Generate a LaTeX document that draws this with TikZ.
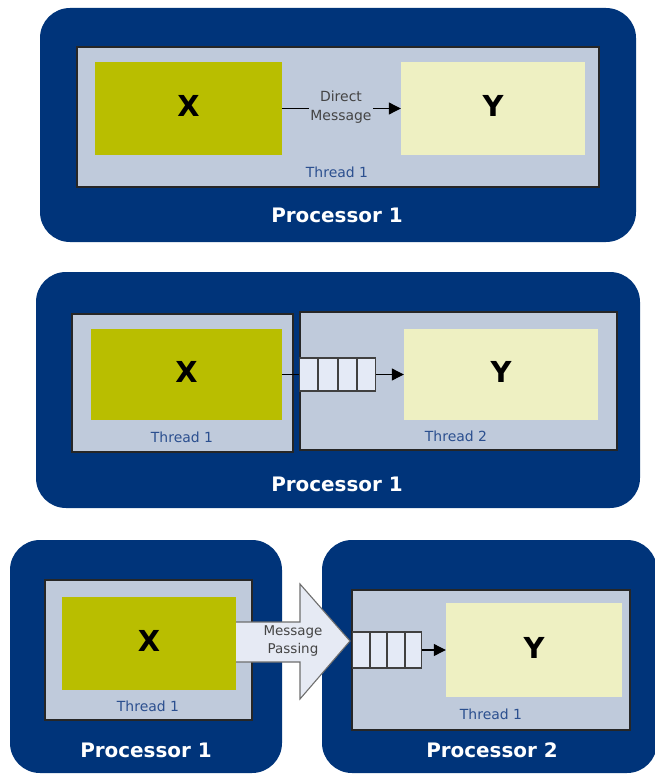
\documentclass[tikz,border=0pt]{standalone}
\usepackage{fontspec}
\setmainfont{DejaVu Sans}
\usetikzlibrary{arrows.meta,fit}
\definecolor{procblue}{HTML}{00347A}
\definecolor{thrgray}{HTML}{BFCADB}
\definecolor{xolive}{HTML}{B9BE00}
\definecolor{ypale}{HTML}{EEF0C2}
\definecolor{qfill}{HTML}{E4EAF6}
\definecolor{thrtext}{HTML}{2B4F8F}
\definecolor{bigfill}{HTML}{E6EAF4}
\definecolor{bigline}{HTML}{6E6E6E}
\definecolor{msgtext}{HTML}{444444}
\begin{document}
\begin{tikzpicture}[x=1bp,y=-1bp,
  proc/.style={fill=procblue, rounded corners=30bp, inner sep=0pt},
  thr/.style={draw=black!85, fill=thrgray, line width=1.3bp, inner sep=0pt},
  letter/.style={inner sep=0pt, text depth=5bp, font=\fontsize{29}{32}\selectfont\bfseries},
  xbox/.style={letter, fill=xolive},
  ybox/.style={letter, fill=ypale},
  thrlab/.style={text=thrtext, inner sep=0pt, font=\fontsize{14}{16}\selectfont},
  proclab/.style={text=white, inner sep=0pt, font=\fontsize{20}{24}\selectfont\bfseries},
  msg/.style={text=msgtext, align=center, inner sep=1.5bp, font=\fontsize{14}{19}\selectfont},
  qcell/.style={draw=black!75, fill=qfill, line width=1.1bp, inner sep=0pt, anchor=west},
  conn/.style={line width=1.1bp, draw=black},
  arr/.style={conn, -{Triangle[length=12bp,width=12bp]}},
  bigarrow/.style={fill=bigfill},
  bigedge/.style={draw=bigline, line width=1.1bp, line join=miter}
]
\useasboundingbox (0,0) rectangle (655,774);

% ---- Direct message within one thread ----
\node[proc, fit={(40,8) (636,242)}] (p1) {};
\node[thr, fit={(77,47) (599,187)}] (t1) {};
\node[xbox, minimum width=187bp, minimum height=93bp] (x1) at (188.5,108.5) {X};
\node[ybox, minimum width=184bp, minimum height=93bp] (y1) at (493,108.5) {Y};
\node[msg] (dm) at (341,107) {Direct\\Message};
\draw[conn] (x1.east) -- (x1.east -| dm.west);
\draw[arr] (dm.east |- y1.west) -- (y1.west);
\node[thrlab] (t1lab) at (337,172) {Thread 1};
\node[proclab] (p1lab) at (337,215) {Processor 1};

% ---- Queue between two threads ----
\node[proc, fit={(36,272) (640,508)}] (p2) {};
\node[thr, fit={(72,314) (293,452)}] (t2a) {};
\node[thr, fit={(300,312) (617,450)}] (t2b) {};
\node[xbox, minimum width=191bp, minimum height=91bp] (x2) at (186.5,374.5) {X};
\node[ybox, minimum width=194bp, minimum height=91bp] (y2) at (501,374.5) {Y};
\node[qcell, minimum width=18.25bp, minimum height=33bp] (q2a) at (299,374.5) {};
\node[qcell, minimum width=18.25bp, minimum height=33bp] (q2b) at (q2a.east) {};
\node[qcell, minimum width=18.25bp, minimum height=33bp] (q2c) at (q2b.east) {};
\node[qcell, minimum width=18.25bp, minimum height=33bp] (q2d) at (q2c.east) {};
\draw[conn] (x2.east) -- (x2.east -| q2a.west);
\draw[arr] (q2d.east) -- (q2d.east -| y2.west);
\node[thrlab] (t2alab) at (182,437) {Thread 1};
\node[thrlab] (t2blab) at (456,436) {Thread 2};
\node[proclab] (p2lab) at (337,484) {Processor 1};

% ---- Message passing between processors ----
\node[proc, fit={(10,540) (282,773)}] (p3a) {};
\node[proc, fit={(322,540) (657,773)}] (p3b) {};
\node[thr, fit={(45,580) (252,720)}] (t3a) {};
\node[thr, fit={(352,590) (630,730)}] (t3b) {};
\node[xbox, minimum width=174bp, minimum height=93bp] (x3) at (149,643.5) {X};
\node[ybox, minimum width=176bp, minimum height=94bp] (y3) at (534,650) {Y};
\coordinate (st) at (236,622);
\coordinate (sb) at (236,662);
\coordinate (tip) at (350,641);
\path[bigarrow] (st) -- (300,622) -- (300,584) -- (tip) -- (300,699) -- (300,662) -- (sb) -- cycle;
\draw[bigedge] (st) -- (300,622) -- (300,584) -- (tip) -- (300,699) -- (300,662) -- (sb);
\node[msg, font=\fontsize{13.5}{18}\selectfont] (mp) at (293,641) {Message\\Passing};
\node[qcell, minimum width=16.5bp, minimum height=36bp] (q3a) at (352,650) {};
\node[qcell, minimum width=16.5bp, minimum height=36bp] (q3b) at (q3a.east) {};
\node[qcell, minimum width=16.5bp, minimum height=36bp] (q3c) at (q3b.east) {};
\node[qcell, minimum width=16.5bp, minimum height=36bp] (q3d) at (q3c.east) {};
\draw[arr] (q3d.east) -- (q3d.east -| y3.west);
\node[thrlab] (t3alab) at (148,706) {Thread 1};
\node[thrlab] (t3blab) at (491,714) {Thread 1};
\node[proclab] (p3alab) at (146,750) {Processor 1};
\node[proclab] (p3blab) at (492,750) {Processor 2};
\end{tikzpicture}
\end{document}
